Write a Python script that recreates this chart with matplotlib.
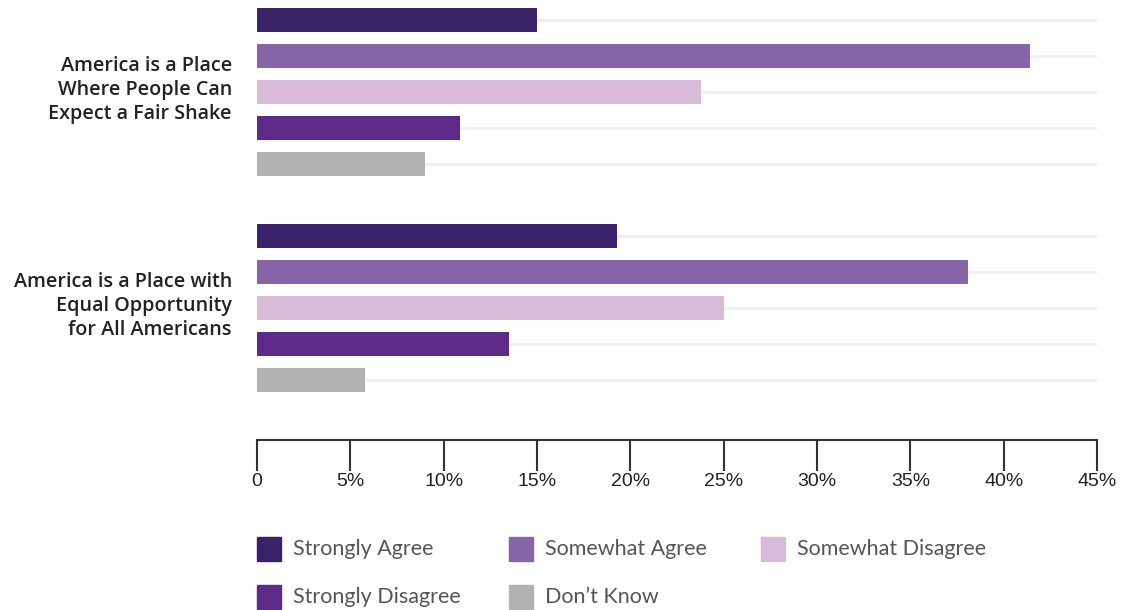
import matplotlib
matplotlib.use("Agg")
import matplotlib.pyplot as plt
from matplotlib.patches import Rectangle

# Survey responses (percent)
statements = [
    "America is a Place\nWhere People Can\nExpect a Fair Shake",
    "America is a Place with\nEqual Opportunity\nfor All Americans",
]
responses = ["Strongly Agree", "Somewhat Agree", "Somewhat Disagree",
             "Strongly Disagree", "Don\u2019t Know"]
fair_shake = [15.0, 41.4, 23.8, 10.9, 9.0]
equal_opp = [19.3, 38.1, 25.0, 13.5, 5.8]
colors = ["#3a2268", "#8665a9", "#d7bbd9", "#5e2a87", "#b2b2b2"]
xticks = [0, 5, 10, 15, 20, 25, 30, 35, 40, 45]
xtick_labels = ["0", "5%", "10%", "15%", "20%", "25%", "30%", "35%", "40%", "45%"]

W, H = 1135, 610
fig = plt.figure(figsize=(W / 100, H / 100), dpi=100)
ax = fig.add_axes([257 / W, 1 - 440 / H, (1097 - 257) / W, 440 / H])

groups = [fair_shake, equal_opp]
for g, values in enumerate(groups):
    for i, v in enumerate(values):
        y = g * 6 + i
        ax.axhline(y, color="#efefef", lw=2, zorder=0)
        ax.barh(y, v, height=0.667, color=colors[i], zorder=2)

ax.set_xlim(0, 45)
ax.set_ylim(11.667, -0.556)
ax.set_xticks(xticks)
ax.set_xticklabels(xtick_labels, family="Liberation Sans", fontsize=14,
                   color="#222222")
ax.tick_params(axis="x", length=22, width=1.5, color="#333333", pad=2)
ax.set_yticks([])
for side in ["top", "right", "left"]:
    ax.spines[side].set_visible(False)
ax.spines["bottom"].set_color("#333333")
ax.spines["bottom"].set_linewidth(1.5)

# group labels
for g, label in enumerate(statements):
    ax.text(-25 / 840 * 45, g * 6 + 2 - 0.06, label, ha="right", va="center",
            family="Open Sans", fontweight="semibold", fontsize=14.2,
            color="#222222", linespacing=1.27)

# legend
legend_pos = [(257, 537), (509, 537), (761, 537), (257, 585), (509, 585)]
for (px, py), name, c in zip(legend_pos, responses, colors):
    fig.add_artist(Rectangle((px / W, 1 - (py + 24) / H), 24 / W, 24 / H,
                             transform=fig.transFigure, color=c))
    fig.text((px + 36) / W, 1 - (py + 12) / H, name, ha="left", va="center",
             family="Lato", fontsize=15.5, color="#555555")

fig.savefig("out.png", dpi=100)
